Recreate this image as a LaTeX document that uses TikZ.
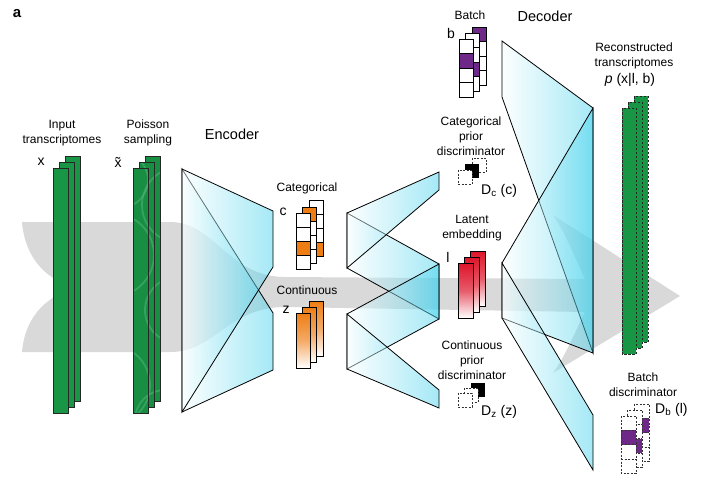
\documentclass[tikz,border=0pt]{standalone}
\usepackage{fontspec}
\setmainfont{Liberation Sans}
\definecolor{mycyan}{RGB}{64,208,236}
\definecolor{mygreen}{RGB}{24,150,70}
\definecolor{mygreenD}{RGB}{24,142,66}
\definecolor{mygreenL}{RGB}{80,180,120}
\definecolor{myorange}{RGB}{238,125,20}
\definecolor{myred}{RGB}{222,20,42}
\definecolor{mypurple}{RGB}{110,40,135}
\definecolor{mygray}{RGB}{217,217,217}
\tikzset{
  lbl/.style={font=\fontsize{12}{15}\selectfont, align=center, inner sep=0pt},
  big/.style={font=\fontsize{14.5}{17}\selectfont, inner sep=0pt},
  sym/.style={font=\fontsize{14}{16}\selectfont, inner sep=0pt},
  funnel/.style={left color=mycyan!3!white, right color=mycyan, fill opacity=0.47},
  edgeline/.style={draw=black, line width=0.8pt, line join=miter},
  gbar/.style={fill=mygreen, draw=black!85, line width=0.6pt},
  dbar/.style={fill=mygreen, draw=black!85, dash pattern=on 2.5pt off 1.5pt, line width=0.6pt},
  cellline/.style={draw=black, line width=0.6pt},
  dcell/.style={draw=black!80, dash pattern=on 2pt off 1.5pt, line width=0.5pt},
  streak/.style={draw=mygreenL, line width=1.8pt, opacity=0.55},
}
\begin{document}
\begin{tikzpicture}[x=1pt,y=-1pt]
\useasboundingbox (0,0) rectangle (719,479);

% background gray arrow
\fill[mygray] (22,222) -- (170,222) .. controls (215,222) and (228,277) .. (285,277)
  -- (585,279) .. controls (575,258) and (565,232) .. (553,215) -- (680,296)
  -- (553,373) .. controls (565,357) and (575,332) .. (585,312)
  -- (285,307) .. controls (228,307) and (215,352) .. (170,352) -- (22,352)
  .. controls (25,315) and (50,291) .. (83,288) .. controls (50,285) and (25,260) .. (22,222) -- cycle;

% input transcriptomes
\foreach \d in {12,6,0} {
  \draw[gbar] ({53+\d},{168-\d}) rectangle ++(15,245);
}
% poisson sampling
\foreach \d in {12,6,0} {
  \begin{scope}
    \clip ({133+\d},{168-\d}) rectangle ++(15,245);
    \fill[mygreenD] ({133+\d},{168-\d}) rectangle ++(15,245);
    \draw[streak] (180,205) circle[radius=38];
    \draw[streak] (112,255) circle[radius=42];
    \draw[streak] (178,310) circle[radius=33];
    \draw[streak] (110,385) circle[radius=40];
    \draw[streak] (165,420) circle[radius=30];
    \draw[streak] (120,180) circle[radius=28];
  \end{scope}
  \draw[black!85, line width=0.6pt] ({133+\d},{168-\d}) rectangle ++(15,245);
}

% encoder
\shade[funnel] (182,169) -- (273,313) -- (273,370) -- (182,412) -- cycle;
\draw[edgeline] (182,169) -- (273,313) -- (273,370) -- (182,412) -- cycle;
\shade[funnel] (182,169) -- (273,211) -- (273,267) -- (182,412) -- cycle;
\draw[edgeline] (182,169) -- (273,211) -- (273,267) -- (182,412) -- cycle;

% middle
\shade[funnel] (347,213) -- (439,264) -- (439,319) -- (347,268) -- cycle;
\draw[edgeline] (347,213) -- (439,264) -- (439,319) -- (347,268) -- cycle;
\shade[funnel] (347,213) -- (439,172) -- (439,190) -- (347,268) -- cycle;
\draw[edgeline] (347,213) -- (439,172) -- (439,190) -- (347,268) -- cycle;
\shade[funnel] (347,314) -- (439,264) -- (439,319) -- (347,369) -- cycle;
\draw[edgeline] (347,314) -- (439,264) -- (439,319) -- (347,369) -- cycle;
\shade[funnel] (347,314) -- (439,390) -- (439,408) -- (347,369) -- cycle;
\draw[edgeline] (347,314) -- (439,390) -- (439,408) -- (347,369) -- cycle;

% decoder
\shade[funnel] (502,41) -- (593,108) -- (593,353) -- (502,97) -- cycle;
\draw[edgeline] (502,41) -- (593,108) -- (593,353) -- (502,97) -- cycle;
\shade[funnel] (502,263) -- (593,108) -- (593,353) -- (502,318) -- cycle;
\draw[edgeline] (502,263) -- (593,108) -- (593,353) -- (502,318) -- cycle;
\shade[funnel] (502,263) -- (593,415) -- (593,470) -- (502,318) -- cycle;
\draw[edgeline] (502,263) -- (593,415) -- (593,470) -- (502,318) -- cycle;

% categorical c
\foreach \x/\y/\k in {309/200/3, 302/207/0, 296/213/2} {
  \fill[white] (\x,\y) rectangle ++(14,56);
  \fill[myorange] (\x,{\y+\k*14}) rectangle ++(14,14);
  \draw[cellline] (\x,\y) rectangle ++(14,56);
  \foreach \j in {1,2,3} { \draw[cellline] (\x,{\y+\j*14}) -- ++(14,0); }
}
% continuous z
\foreach \x/\y in {309/301, 302/307, 296/313} {
  \shade[top color=myorange, bottom color=white, middle color=myorange!65!white] (\x,\y) rectangle ++(14,55);
  \draw[cellline] (\x,\y) rectangle ++(14,55);
}
% batch b
\foreach \x/\y/\k in {472/27/0, 465/33/2, 459/39/1} {
  \fill[white] (\x,\y) rectangle ++(14,58);
  \fill[mypurple] (\x,{\y+\k*14.5}) rectangle ++(14,14.5);
  \draw[cellline] (\x,\y) rectangle ++(14,58);
  \foreach \j in {1,2,3} { \draw[cellline] (\x,{\y+\j*14.5}) -- ++(14,0); }
}
% latent l
\foreach \x/\y in {470/251, 464/257, 458/263} {
  \shade[top color=myred, bottom color=white, middle color=myred!70!white] (\x,\y) rectangle ++(15,55);
  \draw[cellline] (\x,\y) rectangle ++(15,55);
}
% D_c icon
\draw[dcell, fill=white] (472,158) rectangle ++(14,14);
\fill[black] (465,164) rectangle ++(14,14);
\draw[dcell, fill=white] (458,170) rectangle ++(14,14);
% D_z icon
\fill[black] (471,383) rectangle ++(14,14);
\draw[dcell, fill=white] (464,388) rectangle ++(14,14);
\draw[dcell, fill=white] (458,393) rectangle ++(14,14);

% reconstructed
\foreach \d in {12,6,0} {
  \draw[dbar] ({622+\d},{108-\d}) rectangle ++(14,246);
}
% D_b icon
\foreach \x/\y/\k in {634/404/1, 627/410/2, 621/416/1} {
  \fill[white] (\x,\y) rectangle ++(15,57);
  \fill[mypurple] (\x,{\y+\k*14.25}) rectangle ++(15,14.25);
  \draw[dcell] (\x,\y) rectangle ++(15,57);
  \foreach \j in {1,2,3} { \draw[dcell] (\x,{\y+\j*14.25}) -- ++(15,0); }
}

% labels
\node[font=\fontsize{15}{17}\selectfont\bfseries, inner sep=0pt] (la) at (17,14) {a};
\node[lbl] (linput) at (62,133) {Input\\transcriptomes};
\node[sym] (lx) at (41,162) {x};
\node[lbl] (lpois) at (148,133) {Poisson\\sampling};
\node[sym] (lxt) at (118,162) {\~{x}};
\node[big] (lenc) at (232,134) {Encoder};
\node[lbl] (lcat) at (307,188) {Categorical};
\node[sym] (lc) at (283,212) {c};
\node[lbl] (lcont) at (307,290) {Continuous};
\node[sym] (lz) at (286,310) {z};
\node[lbl] (lbatch) at (470,15) {Batch};
\node[sym] (lb) at (451,33) {b};
\node[big] (ldec) at (545,16) {Decoder};
\node[lbl] (lcpd) at (471,136) {Categorical\\prior\\discriminator};
\node[sym, anchor=west] (ldc) at (481,191) {D\textsubscript{c} (c)};
\node[lbl] (llat) at (472,228) {Latent\\embedding};
\node[sym] (ll) at (448,257) {l};
\node[lbl] (lzpd) at (472,360) {Continuous\\prior\\discriminator};
\node[sym, anchor=west] (ldz) at (481,412) {D\textsubscript{z} (z)};
\node[lbl] (lrec) at (634,56) {Reconstructed\\transcriptomes};
\node[sym] (lp) at (630,80) {{\itshape p} (x|l, b)};
\node[lbl] (lbd) at (643,385) {Batch\\discriminator};
\node[sym, anchor=west] (ldb) at (655,410) {D\textsubscript{b} (l)};
\end{tikzpicture}
\end{document}
